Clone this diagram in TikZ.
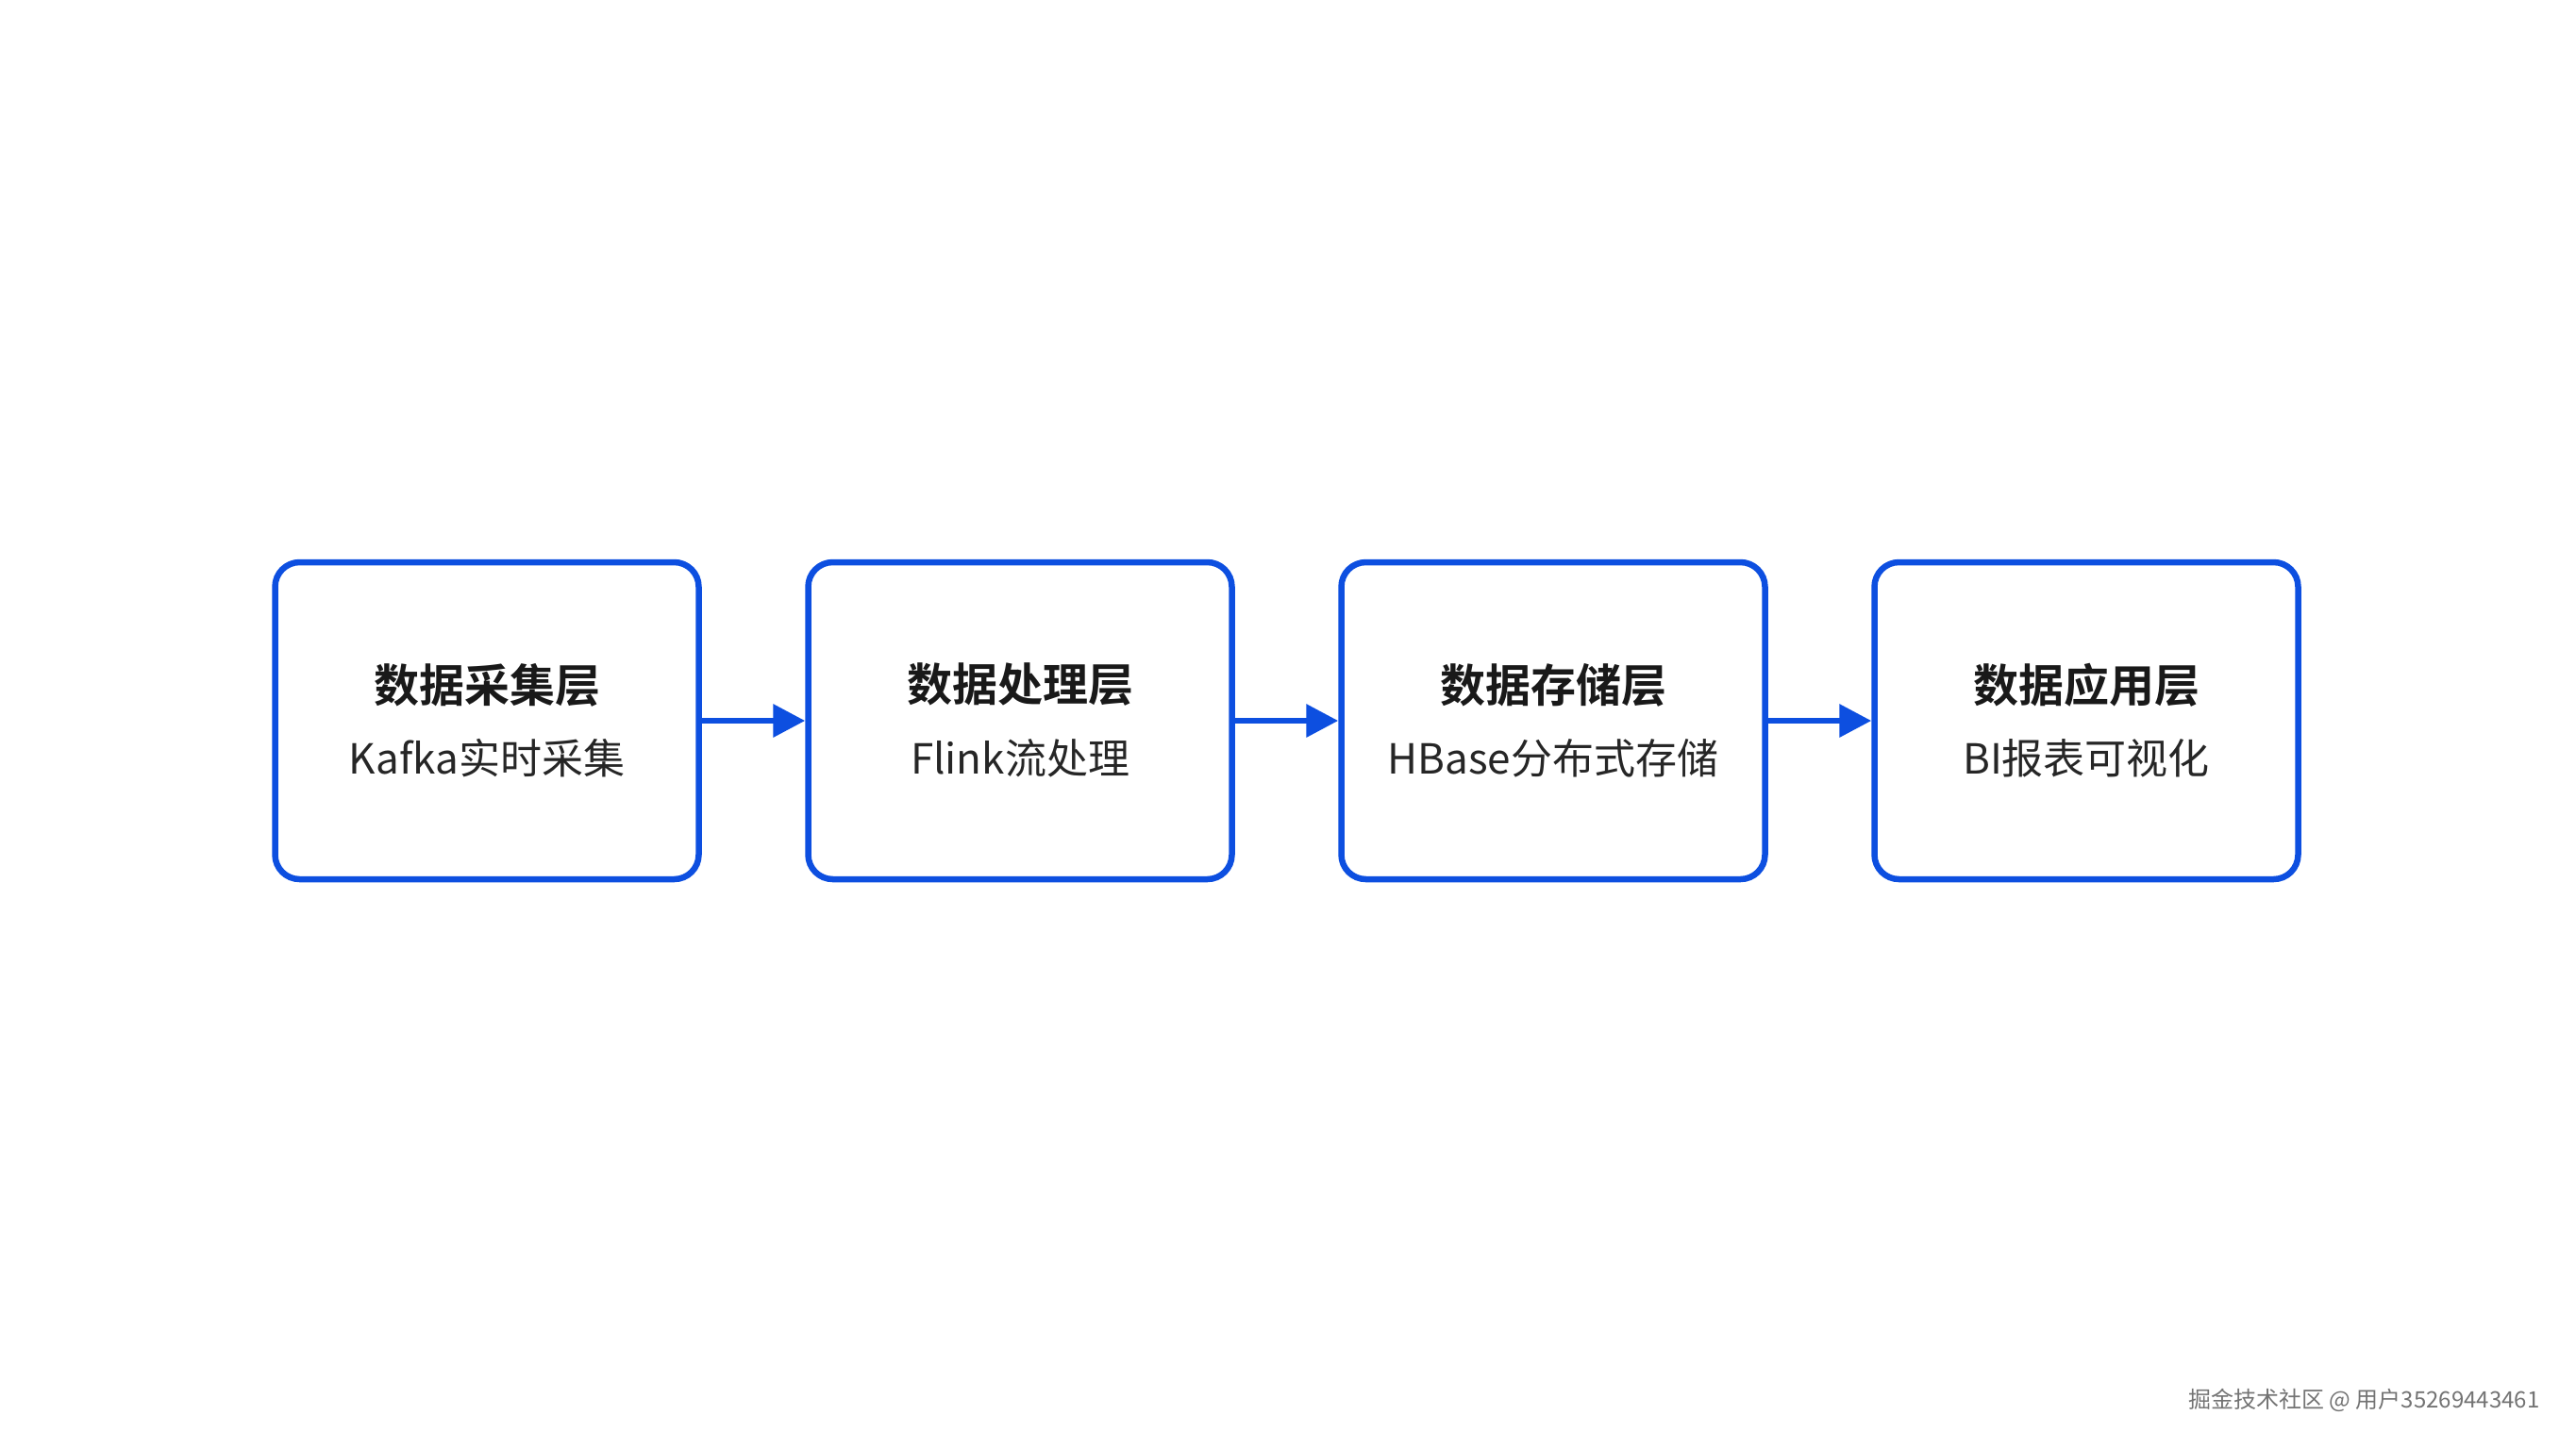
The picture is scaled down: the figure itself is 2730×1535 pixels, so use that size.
\documentclass[tikz,border=0pt]{standalone}
\usepackage{fontspec}
\newfontfamily\cjk{Noto Sans CJK SC}
\newfontfamily\cjkb{Noto Sans CJK SC Bold}
\usetikzlibrary{arrows.meta}
\definecolor{bl}{HTML}{0D4FE0}
\begin{document}
\begin{tikzpicture}[x=1pt,y=1pt,
  layer/.style={draw=bl,line width=6.5pt,rounded corners=26pt,minimum width=449pt,minimum height=336pt,fill=white},
  ttl/.style={font=\cjkb\fontsize{48}{56}\selectfont,text=black!90},
  sub/.style={font=\cjk\fontsize{44}{52}\selectfont,text=black!85},
  conn/.style={draw=bl,line width=6.5pt,-{Triangle[length=34pt,width=34pt]}}]
\useasboundingbox (0,0) rectangle (2730,-1535);
\foreach \n/\x/\t/\s in {a/516/数据采集层/Kafka实时采集,b/1081/数据处理层/Flink流处理,c/1646/数据存储层/HBase分布式存储,d/2211/数据应用层/BI报表可视化}{
  \node[layer] (\n) at (\x,-764) {};
  \node[ttl] (\n t) at (\x,-726) {\t};
  \node[sub] (\n s) at (\x,-804) {\s};
}
\draw[conn] (a) -- (b);
\draw[conn] (b) -- (c);
\draw[conn] (c) -- (d);
\node[font=\cjk\fontsize{24}{28}\selectfont,text=black!55,anchor=east] (wm) at (2695,-1484) {掘金技术社区 @ 用户35269443461};
\end{tikzpicture}
\end{document}
